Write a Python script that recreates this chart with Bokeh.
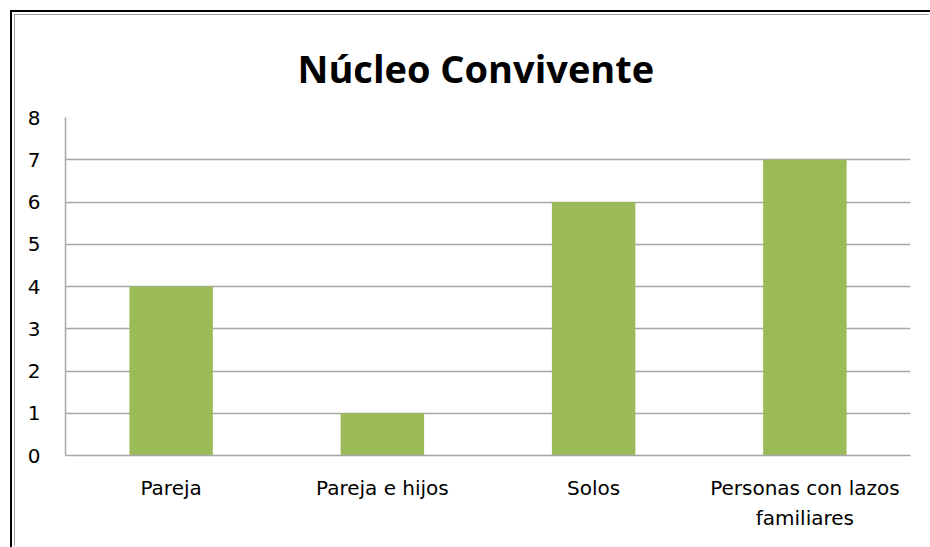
from bokeh.plotting import figure
from bokeh.models import Range1d, FixedTicker, LinearAxis
from bokeh.embed import file_html
from bokeh.resources import INLINE

categories = ["Pareja", "Pareja e hijos", "Solos", "Personas con lazos familiares"]
label_line1 = ["Pareja", "Pareja e hijos", "Solos", "Personas con lazos"]
label_line2 = ["", "", "", "familiares"]
values = [4, 1, 6, 7]
y_ticks = [0, 1, 2, 3, 4, 5, 6, 7, 8]

n = len(categories)
centers = [i + 0.5 for i in range(n)]  # category slots on a 0..n axis

W, H = 915, 532
FL, FR, FT, FB = 50, 895, 102, 440
p = figure(x_range=Range1d(0, n), y_range=Range1d(0, 8), width=W, height=H,
           output_backend="svg", toolbar_location=None, x_axis_location=None,
           min_border_left=FL, min_border_right=W - FR, min_border_top=FT,
           min_border_bottom=H - FB)
p.styles = {"border-left": "1px solid #a0a0a0", "border-top": "1px solid #a0a0a0",
            "margin-left": "14px", "margin-top": "14px",
            "outline": "2px solid #000", "outline-offset": "2px"}
p.outline_line_color = None
p.vbar(x=centers, top=values, width=0.395, color="#9BBB59", line_color=None)

p.title.text = "Núcleo Convivente"
p.title.align = "left"
p.title.text_font = "Open Sans"
p.title.text_font_style = "bold"
p.title.text_font_size = "38px"
p.title.text_color = "#000000"
p.title.offset = 232
p.title.standoff = 48

p.xgrid.grid_line_color = None
p.ygrid.grid_line_color = "#a6a6a6"
p.ygrid.grid_line_width = 1.5
p.yaxis.ticker = FixedTicker(ticks=y_ticks)

ax1 = LinearAxis(ticker=FixedTicker(ticks=centers),
                 major_label_overrides={c: t for c, t in zip(centers, label_line1)})
ax2 = LinearAxis(ticker=FixedTicker(ticks=[c for c, t in zip(centers, label_line2) if t]),
                 major_label_overrides={c: t for c, t in zip(centers, label_line2) if t})
ax2.axis_line_color = None
p.add_layout(ax1, "below")
p.add_layout(ax2, "below")

for ax in (ax1, ax2, p.yaxis[0]):
    if ax is not ax2:
        ax.axis_line_color = "#a6a6a6"
        ax.axis_line_width = 1.5
    ax.major_tick_line_color = None
    ax.minor_tick_line_color = None
    ax.major_label_text_font = "DejaVu Sans"
    ax.major_label_text_font_size = "20px"
    ax.major_label_text_color = "#000000"

ax1.major_label_standoff = 14
ax2.major_label_standoff = -3
p.yaxis.major_label_standoff = 19

open("out.html", "w").write(file_html(p, INLINE))
